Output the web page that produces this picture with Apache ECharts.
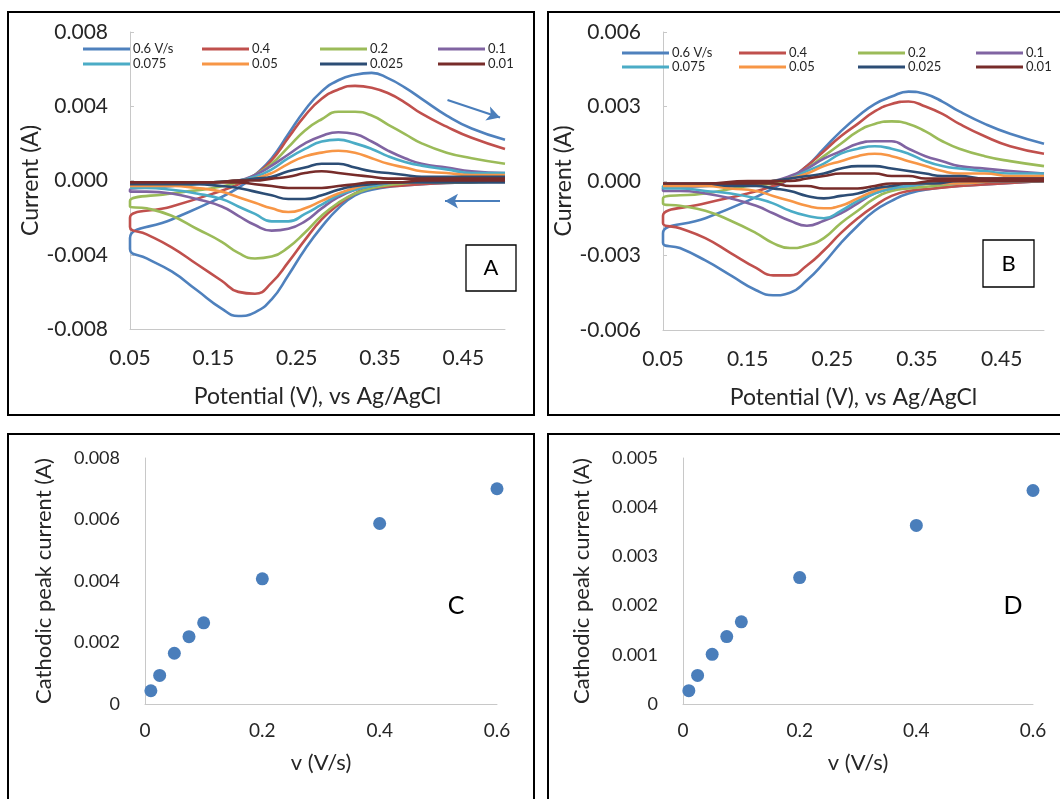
<!DOCTYPE html>
<html>
<head>
<meta charset="utf-8">
<script src="https://cdn.jsdelivr.net/npm/echarts@6/dist/echarts.min.js"></script>
<style>
  html, body { margin: 0; padding: 0; background: #fff; }
  #chart { width: 1060px; height: 799px; }
</style>
</head>
<body>
<div id="chart"></div>
<script>
// Scan rates (V/s) and their legend labels
const scanRates = [0.6, 0.4, 0.2, 0.1, 0.075, 0.05, 0.025, 0.01];
const rateLabels = ['0.6 V/s', '0.4', '0.2', '0.1', '0.075', '0.05', '0.025', '0.01'];
const rateColors = ['#4F81BD', '#C0504D', '#9BBB59', '#8064A2', '#4BACC6', '#F79646', '#2C4D75', '#772C2A'];

// Potential grid (V) for the anodic (forward) and cathodic (reverse) sweeps
const potentialForward = [0.05, 0.10, 0.15, 0.18, 0.20, 0.22, 0.24, 0.26, 0.28, 0.30, 0.32, 0.34, 0.36, 0.38, 0.40, 0.43, 0.46, 0.50];
const potentialReverse = [0.50, 0.45, 0.40, 0.37, 0.34, 0.32, 0.30, 0.28, 0.26, 0.24, 0.22, 0.20, 0.18, 0.16, 0.13, 0.10, 0.07, 0.05];

// Panel A currents (A), one row per scan rate
const panelAForward = [
  [-0.0031, -0.0021, -0.0011, -0.0004, 0.0003, 0.0012, 0.0025, 0.0038, 0.0048, 0.0054, 0.0057, 0.0058, 0.0055, 0.0050, 0.0044, 0.0035, 0.0028, 0.0022],
  [-0.0020, -0.0014, -0.0007, -0.0002, 0.0003, 0.0011, 0.0023, 0.0035, 0.0044, 0.0049, 0.0051, 0.0050, 0.0047, 0.0042, 0.0036, 0.0029, 0.0023, 0.0017],
  [-0.0011, -0.0007, -0.0004, -0.0001, 0.0003, 0.0009, 0.0018, 0.0027, 0.0033, 0.0037, 0.0037, 0.0035, 0.0030, 0.0025, 0.0020, 0.0015, 0.0012, 0.0009],
  [-0.0005, -0.0003, -0.0001, 0.0000, 0.0003, 0.0008, 0.0014, 0.0020, 0.0024, 0.0026, 0.0025, 0.0021, 0.0016, 0.0012, 0.0009, 0.0007, 0.0005, 0.0004],
  [-0.0004, -0.0003, -0.0001, 0.0000, 0.0002, 0.0006, 0.0012, 0.0017, 0.0021, 0.0022, 0.0020, 0.0017, 0.0013, 0.0010, 0.0008, 0.0006, 0.0004, 0.0004],
  [-0.0003, -0.0002, -0.0001, 0.0000, 0.0001, 0.0004, 0.0009, 0.0013, 0.0015, 0.0016, 0.0015, 0.0012, 0.0009, 0.0007, 0.0005, 0.0004, 0.0003, 0.0003],
  [-0.0002, -0.0002, -0.0001, 0.0000, 0.0001, 0.0002, 0.0005, 0.0007, 0.0009, 0.0009, 0.0007, 0.0005, 0.0004, 0.0003, 0.0002, 0.0002, 0.0002, 0.0002],
  [-0.0001, -0.0001, -0.0001, 0.0000, 0.0000, 0.0001, 0.0002, 0.0004, 0.0005, 0.0004, 0.0003, 0.0002, 0.0001, 0.0001, 0.0001, 0.0001, 0.0001, 0.0001]
];
const panelAReverse = [
  [0.0000, -0.0001, -0.0002, -0.0003, -0.0005, -0.0008, -0.0015, -0.0025, -0.0037, -0.0051, -0.0064, -0.0071, -0.0073, -0.0069, -0.0059, -0.0049, -0.0042, -0.0037],
  [0.0000, -0.0001, -0.0002, -0.0003, -0.0004, -0.0007, -0.0013, -0.0021, -0.0032, -0.0044, -0.0055, -0.0061, -0.0060, -0.0054, -0.0045, -0.0036, -0.0029, -0.0025],
  [0.0000, -0.0001, -0.0001, -0.0002, -0.0004, -0.0007, -0.0012, -0.0019, -0.0028, -0.0036, -0.0041, -0.0042, -0.0039, -0.0033, -0.0026, -0.0019, -0.0015, -0.0014],
  [0.0000, 0.0000, -0.0001, -0.0001, -0.0003, -0.0005, -0.0009, -0.0015, -0.0022, -0.0026, -0.0027, -0.0024, -0.0019, -0.0014, -0.0010, -0.0007, -0.0006, -0.0006],
  [0.0000, 0.0000, -0.0001, -0.0001, -0.0003, -0.0005, -0.0008, -0.0013, -0.0018, -0.0022, -0.0022, -0.0018, -0.0014, -0.0010, -0.0007, -0.0005, -0.0004, -0.0004],
  [0.0000, 0.0000, -0.0001, -0.0001, -0.0002, -0.0004, -0.0007, -0.0011, -0.0015, -0.0017, -0.0015, -0.0012, -0.0009, -0.0006, -0.0004, -0.0003, -0.0003, -0.0003],
  [-0.0001, -0.0001, -0.0001, -0.0001, -0.0002, -0.0003, -0.0005, -0.0008, -0.0010, -0.0010, -0.0008, -0.0006, -0.0004, -0.0003, -0.0002, -0.0002, -0.0002, -0.0002],
  [0.0000, 0.0000, 0.0000, -0.0001, -0.0001, -0.0002, -0.0003, -0.0004, -0.0004, -0.0004, -0.0003, -0.0002, -0.0001, -0.0001, -0.0001, -0.0001, -0.0001, -0.0001]
];

// Panel B currents (A), one row per scan rate
const panelBForward = [
  [-0.0021, -0.0015, -0.0008, -0.0003, 0.0001, 0.0006, 0.0013, 0.0020, 0.0026, 0.0031, 0.0034, 0.0036, 0.0035, 0.0032, 0.0028, 0.0023, 0.0019, 0.0015],
  [-0.0014, -0.0009, -0.0005, -0.0002, 0.0001, 0.0006, 0.0012, 0.0018, 0.0023, 0.0028, 0.0031, 0.0032, 0.0030, 0.0027, 0.0023, 0.0018, 0.0014, 0.0011],
  [-0.0007, -0.0005, -0.0002, -0.0001, 0.0001, 0.0005, 0.0010, 0.0015, 0.0020, 0.0023, 0.0024, 0.0023, 0.0020, 0.0016, 0.0013, 0.0010, 0.0008, 0.0006],
  [-0.0003, -0.0002, -0.0001, 0.0000, 0.0002, 0.0005, 0.0009, 0.0012, 0.0015, 0.0016, 0.0016, 0.0013, 0.0010, 0.0008, 0.0006, 0.0005, 0.0004, 0.0003],
  [-0.0002, -0.0002, -0.0001, 0.0000, 0.0001, 0.0004, 0.0007, 0.0011, 0.0013, 0.0014, 0.0013, 0.0011, 0.0008, 0.0006, 0.0005, 0.0004, 0.0003, 0.0003],
  [-0.0002, -0.0001, -0.0001, 0.0000, 0.0001, 0.0003, 0.0006, 0.0008, 0.0010, 0.0011, 0.0010, 0.0008, 0.0006, 0.0004, 0.0003, 0.0003, 0.0002, 0.0002],
  [-0.0001, -0.0001, -0.0001, 0.0000, 0.0001, 0.0002, 0.0003, 0.0005, 0.0006, 0.0006, 0.0005, 0.0004, 0.0003, 0.0002, 0.0002, 0.0001, 0.0001, 0.0001],
  [-0.0001, -0.0001, 0.0000, 0.0000, 0.0000, 0.0001, 0.0002, 0.0003, 0.0003, 0.0003, 0.0002, 0.0002, 0.0001, 0.0001, 0.0001, 0.0001, 0.0001, 0.0001]
];
const panelBReverse = [
  [0.0000, -0.0001, -0.0002, -0.0003, -0.0005, -0.0008, -0.0012, -0.0018, -0.0025, -0.0033, -0.0040, -0.0045, -0.0046, -0.0044, -0.0038, -0.0032, -0.0027, -0.0025],
  [0.0000, -0.0001, -0.0002, -0.0003, -0.0004, -0.0006, -0.0010, -0.0015, -0.0021, -0.0028, -0.0034, -0.0038, -0.0038, -0.0035, -0.0029, -0.0023, -0.0019, -0.0017],
  [0.0000, 0.0000, -0.0001, -0.0002, -0.0003, -0.0004, -0.0007, -0.0012, -0.0017, -0.0023, -0.0026, -0.0027, -0.0025, -0.0021, -0.0016, -0.0012, -0.0010, -0.0009],
  [0.0000, 0.0000, -0.0001, -0.0001, -0.0002, -0.0003, -0.0005, -0.0009, -0.0013, -0.0016, -0.0018, -0.0016, -0.0013, -0.0010, -0.0007, -0.0005, -0.0004, -0.0004],
  [0.0000, 0.0000, -0.0001, -0.0001, -0.0002, -0.0003, -0.0005, -0.0008, -0.0012, -0.0015, -0.0014, -0.0012, -0.0009, -0.0007, -0.0005, -0.0004, -0.0003, -0.0003],
  [0.0000, 0.0000, -0.0001, -0.0001, -0.0001, -0.0002, -0.0004, -0.0007, -0.0010, -0.0011, -0.0010, -0.0008, -0.0006, -0.0004, -0.0003, -0.0002, -0.0002, -0.0002],
  [0.0000, 0.0000, 0.0000, -0.0001, -0.0001, -0.0002, -0.0003, -0.0005, -0.0006, -0.0007, -0.0006, -0.0004, -0.0003, -0.0002, -0.0002, -0.0001, -0.0001, -0.0001],
  [0.0000, 0.0000, 0.0000, 0.0000, -0.0001, -0.0001, -0.0002, -0.0003, -0.0003, -0.0003, -0.0002, -0.0002, -0.0001, -0.0001, -0.0001, -0.0001, -0.0001, -0.0001]
];

// Cathodic peak current (A) against scan rate for panels C and D
const peakRates = [0.01, 0.025, 0.05, 0.075, 0.1, 0.2, 0.4, 0.6];
const panelCPeaks = [0.00043, 0.00093, 0.00165, 0.00219, 0.00264, 0.00407, 0.00587, 0.00700];
const panelDPeaks = [0.00027, 0.00058, 0.00101, 0.00137, 0.00167, 0.00257, 0.00363, 0.00434];

const FONT = 'Lato, "Open Sans", sans-serif';
const TEXT = '#262626';
const AXIS_GRAY = '#c8c8c8';

// One CV loop per scan rate: cathodic sweep down, then anodic sweep back up
function cvLoop(fwd, rev) {
  const pts = potentialReverse.map((e, i) => [e, rev[i]]);
  return pts.concat(potentialForward.map((e, i) => [e, fwd[i]]));
}

function cvSeries(fwdRows, revRows, axisIndex) {
  return scanRates.map((r, k) => ({
    type: 'line',
    name: rateLabels[k],
    xAxisIndex: axisIndex,
    yAxisIndex: axisIndex,
    data: cvLoop(fwdRows[k], revRows[k]),
    smooth: 0.5,
    symbol: 'none',
    color: rateColors[k],
    lineStyle: { width: 2.6, color: rateColors[k] },
    animation: false,
    z: 2 + k
  }));
}

function cvXAxis(gridIndex) {
  return {
    gridIndex, type: 'value', min: 0.05, max: 0.5, interval: 0.1,
    name: 'Potential (V), vs Ag/AgCl', nameLocation: 'middle', nameGap: 56,
    nameTextStyle: { fontFamily: FONT, fontSize: 23, color: TEXT },
    axisLine: { onZero: false, lineStyle: { color: AXIS_GRAY, width: 1 } },
    axisTick: { show: false },
    splitLine: { show: false },
    axisLabel: { fontFamily: FONT, fontSize: 21, color: TEXT, margin: 19, showMaxLabel: false,
      formatter: v => v.toFixed(2) }
  };
}

function cvYAxis(gridIndex, lim, step) {
  return {
    gridIndex, type: 'value', min: -lim, max: lim, interval: step,
    name: 'Current (A)', nameLocation: 'middle', nameGap: 88,
    nameTextStyle: { fontFamily: FONT, fontSize: 23, color: TEXT },
    axisLine: { show: true, onZero: false, lineStyle: { color: AXIS_GRAY, width: 1 } },
    axisTick: { show: true, inside: true, length: 4, lineStyle: { color: AXIS_GRAY } },
    splitLine: { show: false },
    axisLabel: { fontFamily: FONT, fontSize: 21, color: TEXT, margin: 22,
      formatter: v => v.toFixed(3) }
  };
}

function peakXAxis(gridIndex) {
  return {
    gridIndex, type: 'value', min: 0, max: 0.6, interval: 0.2,
    name: 'v (V/s)', nameLocation: 'middle', nameGap: 48,
    nameTextStyle: { fontFamily: FONT, fontSize: 22, color: TEXT },
    axisLine: { onZero: false, lineStyle: { color: AXIS_GRAY, width: 1 } },
    axisTick: { show: false },
    splitLine: { show: false },
    axisLabel: { fontFamily: FONT, fontSize: 19, color: TEXT, margin: 17,
      formatter: v => (v === 0 ? '0' : v.toFixed(1)) }
  };
}

function peakYAxis(gridIndex, max, step) {
  return {
    gridIndex, type: 'value', min: 0, max: max, interval: step,
    name: 'Cathodic peak current (A)', nameLocation: 'middle', nameGap: 90,
    nameTextStyle: { fontFamily: FONT, fontSize: 22, color: TEXT },
    axisLine: { show: true, onZero: false, lineStyle: { color: AXIS_GRAY, width: 1 } },
    axisTick: { show: false },
    splitLine: { show: false },
    axisLabel: { fontFamily: FONT, fontSize: 18, color: TEXT, margin: 25,
      formatter: v => (v === 0 ? '0' : v.toFixed(3)) }
  };
}

// Legend laid out as four columns of two entries each
function cvLegends(columnLefts, top, rowGap) {
  return columnLefts.map((left, c) => ({
    left, top, orient: 'vertical',
    data: [rateLabels[c], rateLabels[c + 4]],
    icon: 'rect', itemWidth: 47, itemHeight: 3, itemGap: rowGap,
    selectedMode: false,
    textStyle: { fontFamily: FONT, fontSize: 13, lineHeight: 14, color: TEXT, padding: [0, 0, 0, -2] }
  }));
}

function panelFrame(x, y, w, h) {
  return { type: 'rect', silent: true, shape: { x, y, width: w, height: h },
    style: { fill: 'none', stroke: '#000', lineWidth: 2 }, z: 0 };
}

function tagBox(x, y, w, h, letter) {
  return { type: 'group', silent: true, z: 20, children: [
    { type: 'rect', shape: { x, y, width: w, height: h },
      style: { fill: '#fff', stroke: '#000', lineWidth: 1.3 } },
    { type: 'text', x: x + w / 2, y: y + h / 2,
      style: { text: letter, font: '22px ' + FONT, fill: '#000', align: 'center', verticalAlign: 'middle' } }
  ] };
}

function tagText(x, y, letter) {
  return { type: 'text', silent: true, z: 20, x, y,
    style: { text: letter, font: '25px ' + FONT, fill: '#000', align: 'center', verticalAlign: 'middle' } };
}

// Sweep-direction arrows on panel A, placed in data coordinates
const sweepArrows = {
  silent: true, symbol: ['none', 'arrow'], symbolSize: [11, 13], animation: false,
  label: { show: false },
  lineStyle: { color: '#4A7EBB', width: 2.2, type: 'solid' },
  data: [
    [{ coord: [0.431, 0.00434] }, { coord: [0.494, 0.00339] }],
    [{ coord: [0.494, -0.00111] }, { coord: [0.428, -0.00111] }]
  ]
};

const seriesA = cvSeries(panelAForward, panelAReverse, 0);
seriesA[0].markLine = sweepArrows;
const seriesB = cvSeries(panelBForward, panelBReverse, 1);

const scatterStyle = { type: 'scatter', symbolSize: 13, itemStyle: { color: '#4A7EBB', opacity: 1 }, animation: false };

const option = {
  backgroundColor: '#fff',
  grid: [
    { left: 130, top: 32, width: 375, height: 297 },
    { left: 663, top: 32, width: 381, height: 298 },
    { left: 145, top: 458, width: 352, height: 246 },
    { left: 683, top: 458, width: 350, height: 246 }
  ],
  xAxis: [cvXAxis(0), cvXAxis(1), peakXAxis(2), peakXAxis(3)],
  yAxis: [cvYAxis(0, 0.008, 0.004), cvYAxis(1, 0.006, 0.003), peakYAxis(2, 0.008, 0.002), peakYAxis(3, 0.005, 0.001)],
  legend: cvLegends([78, 197, 315, 433], 37, 1).concat(cvLegends([617, 734, 853, 971], 41, 0)),
  series: seriesA.concat(seriesB).concat([
    Object.assign({ name: 'C', xAxisIndex: 2, yAxisIndex: 2,
      data: peakRates.map((v, i) => [v, panelCPeaks[i]]) }, scatterStyle),
    Object.assign({ name: 'D', xAxisIndex: 3, yAxisIndex: 3,
      data: peakRates.map((v, i) => [v, panelDPeaks[i]]) }, scatterStyle)
  ]),
  graphic: [
    panelFrame(8, 12, 526, 403),
    panelFrame(548, 12, 530, 403),
    panelFrame(8, 434, 526, 400),
    panelFrame(548, 434, 530, 400),
    tagBox(466, 245, 50, 46, 'A'),
    tagBox(983, 240, 51, 47, 'B'),
    tagText(456, 606, 'C'),
    tagText(1013, 606, 'D')
  ]
};

const chart = echarts.init(document.getElementById('chart'), null, { renderer: 'canvas' });
chart.setOption(option);
</script>
</body>
</html>
